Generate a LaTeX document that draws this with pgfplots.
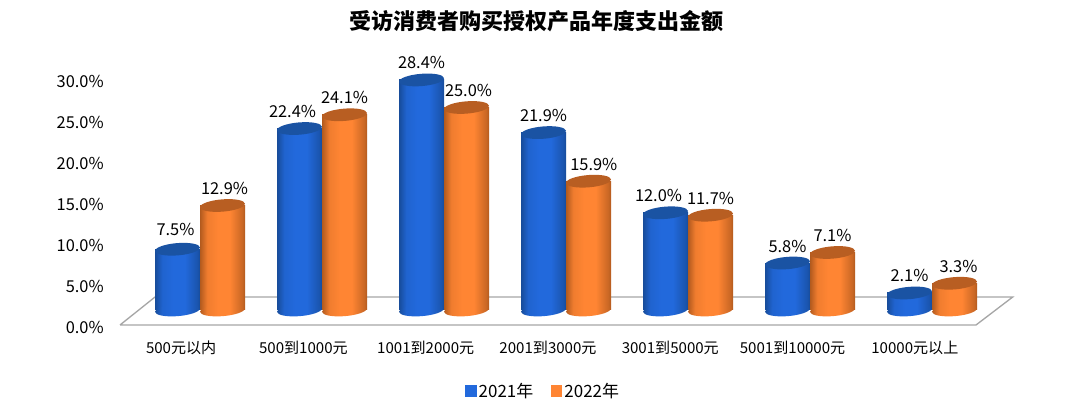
\documentclass[border=0pt]{standalone}
\usepackage{fontspec}
\usepackage{pgfplots}
\pgfplotsset{compat=1.18}
\setmainfont{Noto Sans CJK SC}
\definecolor{bd}{HTML}{174C9A}
\definecolor{bm}{HTML}{2269DC}
\definecolor{bt}{HTML}{1A53A3}
\definecolor{od}{HTML}{B25A1E}
\definecolor{om}{HTML}{FF8533}
\definecolor{ot}{HTML}{B85E22}
\definecolor{floorc}{HTML}{A6A6A6}
\pgfdeclarehorizontalshading{bluecyl}{100bp}{color(0bp)=(bd); color(25bp)=(bd); color(33bp)=(bm!80!bd); color(45bp)=(bm); color(58bp)=(bm); color(72bp)=(bd!70!bm); color(75bp)=(bd); color(100bp)=(bd)}
\pgfdeclarehorizontalshading{orangecyl}{100bp}{color(0bp)=(od); color(25bp)=(od); color(33bp)=(om!80!od); color(45bp)=(om); color(58bp)=(om); color(72bp)=(od!70!om); color(75bp)=(od); color(100bp)=(od)}
\newcommand{\cylpath}{\pgfpathellipse{\pgfpointorigin}{\pgfqpoint{16.875pt}{1.36pt}}{\pgfqpoint{-0.33pt}{4.6pt}}}
\pgfdeclareplotmark{bluebase}{\cylpath\pgfshadepath{bluecyl}{0}\pgfusepath{discard}}
\pgfdeclareplotmark{orangebase}{\cylpath\pgfshadepath{orangecyl}{0}\pgfusepath{discard}}
\pgfdeclareplotmark{bluetop}{\pgfsetfillcolor{bt}\cylpath\pgfusepathqfill}
\pgfdeclareplotmark{orangetop}{\pgfsetfillcolor{ot}\cylpath\pgfusepathqfill}
\newcommand{\px}[1]{\fontsize{#1}{#1}\selectfont}
% #1 name (blue/orange), #2 shift, #3 x, #4 value
\newcommand{\cyl}[4]{%
  \addplot[forget plot,only marks,mark=#1base,xshift=#2] coordinates {(#3,0)};
  \addplot[forget plot,ybar,bar width=33.75pt,bar shift=#2,draw=none,shade,shading=#1cyl] coordinates {(#3,#4)};
  \addplot[forget plot,only marks,mark=#1top,xshift=#2] coordinates {(#3,#4)};
}
% #1 shift, #2 x, #3 value, #4 dx, #5 dy
\newcommand{\lab}[5]{%
  \addplot[forget plot,only marks,mark=none,xshift=#1,point meta=y,
    nodes near coords={\pgfmathprintnumber[fixed,fixed zerofill,precision=1,assume math mode=true]{\pgfplotspointmeta}\%},
    every node near coord/.append style={font=\px{12.3},anchor=center,xshift=#4pt,yshift=12.75pt+#5pt}] coordinates {(#2,#3)};
}
\begin{document}
\begin{tikzpicture}
\useasboundingbox (0,0) rectangle (810pt,315pt);
% frame: y scale labels, floor and category labels
\begin{axis}[
  at={(90pt,71.25pt)},anchor=south west,scale only axis,
  width=642pt,height=184.5pt,
  xmin=-0.5,xmax=6.5,ymin=0,ymax=30,clip=false,
  axis line style={draw=none},major tick length=0pt,
  xtick={0,1,2,3,4,5,6},
  xticklabels={500元以内,500到1000元,1001到2000元,2001到3000元,3001到5000元,5001到10000元,10000元以上},
  xticklabel style={font=\px{11.3},anchor=center,yshift=-17.2pt},
  ytick={0,5,10,15,20,25,30},
  yticklabel={\pgfmathprintnumber[fixed,fixed zerofill,precision=1,assume math mode=true]{\tick}\%},
  yticklabel style={font=\px{12.3},xshift=-8.7pt,yshift=-1.5pt},
]
\addplot[draw=floorc,line width=1pt,no marks] coordinates {(-0.5,0) (-0.214,3.41) (6.8,3.41) (6.5,0) (-0.5,0)};
\end{axis}
% cylinders: full-page axis; value 0 at px 310, 8.1 px per percent
\begin{axis}[
  at={(0pt,0pt)},anchor=south west,scale only axis,
  width=810pt,height=315pt,
  xmin=-1.6393,xmax=7.2131,ymin=-13.58,ymax=38.27,clip=false,
  hide axis,
  title={受访消费者购买授权产品年度支出金额},
  title style={at={(0.4965,0.93)},anchor=center,font=\px{16.5}\bfseries},
  legend style={at={(0.503,0.069)},anchor=center,draw=none,fill=none,font=\px{12.7},legend columns=2,
    /tikz/every even column/.append style={column sep=11pt}},
]
\addlegendimage{legend image code/.code={\fill[bm] (0pt,-4pt) rectangle (8pt,4pt);}}
\addlegendentry{2021年}
\addlegendimage{legend image code/.code={\fill[om] (0pt,-4pt) rectangle (8pt,4pt);}}
\addlegendentry{2022年}
\cyl{blue}{-16.875pt}{0}{7.5}\cyl{orange}{16.875pt}{0}{12.9}
\cyl{blue}{-16.875pt}{1}{22.4}\cyl{orange}{16.875pt}{1}{24.1}
\cyl{blue}{-16.875pt}{2}{28.4}\cyl{orange}{16.875pt}{2}{25.0}
\cyl{blue}{-16.875pt}{3}{21.9}\cyl{orange}{16.875pt}{3}{15.9}
\cyl{blue}{-16.875pt}{4}{12.0}\cyl{orange}{16.875pt}{4}{11.7}
\cyl{blue}{-16.875pt}{5}{5.8}\cyl{orange}{16.875pt}{5}{7.1}
\cyl{blue}{-16.875pt}{6}{2.1}\cyl{orange}{16.875pt}{6}{3.3}
\lab{-16.875pt}{0}{7.5}{-1.5}{2}\lab{16.875pt}{0}{12.9}{1.5}{0}
\lab{-16.875pt}{1}{22.4}{-5.25}{0}\lab{16.875pt}{1}{24.1}{0}{0}
\lab{-16.875pt}{2}{28.4}{0}{0}\lab{16.875pt}{2}{25.0}{1.5}{0}
\lab{-16.875pt}{3}{21.9}{0}{0}\lab{16.875pt}{3}{15.9}{4}{0}
\lab{-16.875pt}{4}{12.0}{-5.25}{0}\lab{16.875pt}{4}{11.7}{0}{0}
\lab{-16.875pt}{5}{5.8}{0}{0}\lab{16.875pt}{5}{7.1}{0}{0}
\lab{-16.875pt}{6}{2.1}{0}{0}\lab{16.875pt}{6}{3.3}{3}{0}
\end{axis}
\end{tikzpicture}
\end{document}
